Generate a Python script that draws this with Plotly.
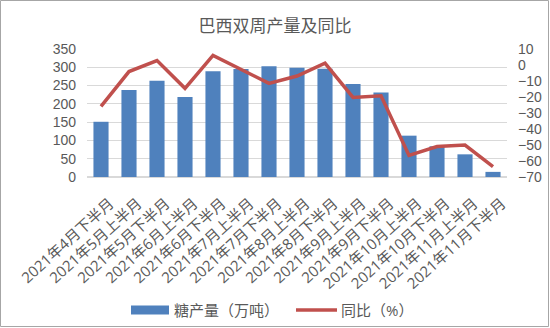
import plotly.graph_objects as go

# Brazil bi-weekly sugar output and year-on-year change
periods = [
    "2021年4月下半月", "2021年5月上半月", "2021年5月下半月", "2021年6月上半月",
    "2021年6月下半月", "2021年7月上半月", "2021年7月下半月", "2021年8月上半月",
    "2021年8月下半月", "2021年9月上半月", "2021年9月下半月", "2021年10月上半月",
    "2021年10月下半月", "2021年11月上半月", "2021年11月下半月",
]
sugar_output = [151, 238, 263, 219, 289, 295, 303, 299, 296, 254, 231, 113, 84, 62, 14]
yoy_change = [-25.8, -4.1, 2.8, -14.6, 6.0, -2.8, -11.5, -6.9, 1.1, -20.3, -19.2,
              -56.5, -51.0, -50.0, -63.5]

left_ticks = list(range(0, 351, 50))
right_ticks = list(range(-70, 11, 10))

bar_name = "糖产量（万吨）"
line_name = "同比（%）"
BAR_COLOR = "#4f81bd"
LINE_COLOR = "#c0504d"

W, H = 550, 328
ML, MR, MT, MB = 87, 43, 49, 151
PW, PH = W - ML - MR, H - MT - MB

FONT = "Open Sans, Noto Sans CJK SC, sans-serif"
NUM_FONT = "Liberation Sans, Arial, sans-serif"
GREY = "#595959"


# helpers: pixel position in the page -> paper units of the plot area
def px_x(v):
    return (v - ML) / PW


def px_y(v):
    return (H - MB - v) / PH


fig = go.Figure()
fig.add_trace(go.Bar(
    x=periods, y=sugar_output, name=bar_name,
    marker=dict(color=BAR_COLOR, line=dict(width=0)),
))
fig.add_trace(go.Scatter(
    x=periods, y=yoy_change, name=line_name, yaxis="y2",
    mode="lines", line=dict(color=LINE_COLOR, width=3.5),
))

# outer frame around the whole chart
fig.add_shape(
    type="rect", xref="paper", yref="paper",
    x0=px_x(0.5), x1=px_x(W - 1.5), y0=px_y(H - 1.5), y1=px_y(0.5),
    line=dict(color="#a6a6a6", width=1), layer="below",
)

# legend drawn below the category labels: wide swatches like the bar/line keys
LEG_Y = 310
fig.add_shape(
    type="rect", xref="paper", yref="paper",
    x0=px_x(131), x1=px_x(169), y0=px_y(LEG_Y + 4.5), y1=px_y(LEG_Y - 4.5),
    fillcolor=BAR_COLOR, line=dict(width=0),
)
fig.add_shape(
    type="line", xref="paper", yref="paper",
    x0=px_x(296), x1=px_x(337), y0=px_y(LEG_Y), y1=px_y(LEG_Y),
    line=dict(color=LINE_COLOR, width=3.5),
)
for label, left in ((bar_name, 172), (line_name, 339)):
    fig.add_annotation(
        text=label, xref="paper", yref="paper",
        x=px_x(left), y=px_y(LEG_Y), xanchor="left", yanchor="middle",
        showarrow=False, font=dict(family=FONT, size=15, color=GREY),
    )

fig.update_layout(
    width=W, height=H,
    margin=dict(l=ML, r=MR, t=MT, b=MB, autoexpand=False),
    paper_bgcolor="white", plot_bgcolor="white",
    font=dict(family=FONT, size=13, color=GREY),
    title=dict(text="巴西双周产量及同比", x=0.5, xanchor="center",
               y=1 - 26 / H, yanchor="middle",
               font=dict(family=FONT, size=17, color=GREY)),
    bargap=0.46,
    showlegend=False,
    xaxis=dict(
        type="category", tickangle=-42, showgrid=False, showline=False,
        ticks="", ticklabelstandoff=14, ticklabelshift=9,
        tickfont=dict(family=FONT, size=15, color=GREY),
    ),
    yaxis=dict(
        range=[0, 350], tickvals=left_ticks, showgrid=True,
        gridcolor="#d9d9d9", gridwidth=1, zeroline=True,
        zerolinecolor="#d9d9d9", showline=False, ticks="",
        ticklabelstandoff=10,
        tickfont=dict(family=NUM_FONT, size=14, color=GREY),
    ),
    yaxis2=dict(
        range=[-70, 10], tickvals=right_ticks, overlaying="y", side="right",
        showgrid=False, zeroline=False, showline=False, ticks="",
        ticklabelstandoff=10,
        tickfont=dict(family=NUM_FONT, size=14, color=GREY),
    ),
)

fig.write_html("out.html")
